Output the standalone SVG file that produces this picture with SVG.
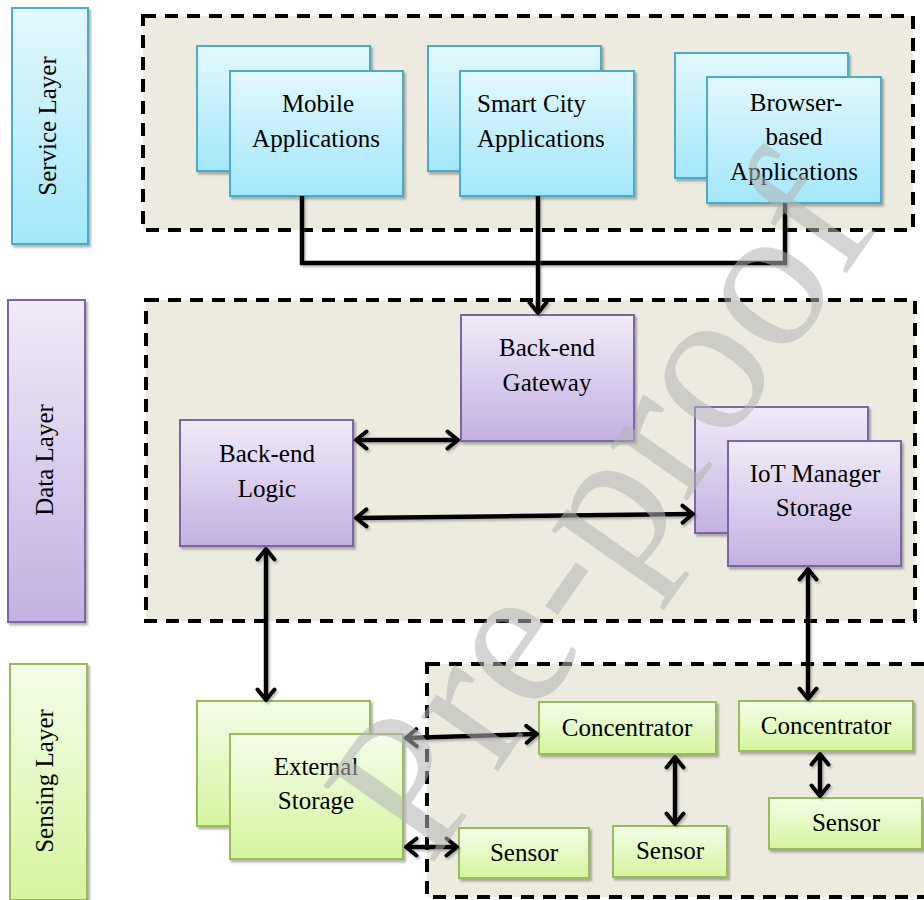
<svg xmlns="http://www.w3.org/2000/svg" width="924" height="900" viewBox="0 0 924 900">
<defs>
<linearGradient id="gc" x1="0" y1="0" x2="0" y2="1"><stop offset="0" stop-color="#e3f8fd"/><stop offset="1" stop-color="#a3e7fb"/></linearGradient>
<linearGradient id="gp" x1="0" y1="0" x2="0" y2="1"><stop offset="0" stop-color="#f0ebf8"/><stop offset="1" stop-color="#c3b0e2"/></linearGradient>
<linearGradient id="gg" x1="0" y1="0" x2="0" y2="1"><stop offset="0" stop-color="#f4fde9"/><stop offset="1" stop-color="#d4f59e"/></linearGradient>
<filter id="sh" x="-10%" y="-10%" width="130%" height="130%"><feDropShadow dx="2" dy="2.5" stdDeviation="1" flood-color="#555" flood-opacity="0.45"/></filter>
<filter id="shl" filterUnits="userSpaceOnUse" x="0" y="0" width="924" height="900"><feDropShadow dx="1.5" dy="2" stdDeviation="1" flood-color="#555" flood-opacity="0.4"/></filter>
<marker id="ah" viewBox="0 0 16 22" refX="13" refY="11" markerWidth="16" markerHeight="22" markerUnits="userSpaceOnUse" orient="auto-start-reverse"><path d="M2.5,2.5 L13,11 L2.5,19.5" fill="none" stroke="#000" stroke-width="4" stroke-linecap="round" stroke-linejoin="round"/></marker>
</defs>
<style>
.cont{fill:#edeae0;stroke:#000;stroke-width:4;stroke-dasharray:13 9}
.c{fill:url(#gc);stroke:#4bacc6;stroke-width:2;filter:url(#sh)}
.p{fill:url(#gp);stroke:#8064a2;stroke-width:2;filter:url(#sh)}
.g{fill:url(#gg);stroke:#9bbb59;stroke-width:2;filter:url(#sh)}
text{font-family:"Liberation Serif","Times New Roman",serif;font-size:25px;fill:#000;text-anchor:middle}
.ln{fill:none;stroke:#000;stroke-width:4.5;filter:url(#shl)}
.ar{marker-start:url(#ah);marker-end:url(#ah)}
.wm{font-size:205px;fill:#b4b4b4;opacity:0.55;text-anchor:start}
</style>
<rect width="924" height="900" fill="#fff"/>
<g id="service-layer-container"><rect class="cont" x="143" y="16" width="770" height="214"/></g>
<g id="data-layer-container"><rect class="cont" x="146" y="300" width="769" height="321"/></g>
<g id="sensing-layer-container"><rect class="cont" x="427" y="664" width="520" height="233"/></g>

<g id="service-layer"><rect class="c" x="12" y="8" width="76" height="236"/><text transform="translate(56,126) rotate(-90)">Service Layer</text></g>
<g id="data-layer"><rect class="p" x="8" y="300" width="77" height="322"/><text transform="translate(53,460) rotate(-90)">Data Layer</text></g>
<g id="sensing-layer"><rect class="g" x="10" y="664" width="77" height="236"/><text transform="translate(53,781) rotate(-90)">Sensing Layer</text></g>

<g id="mobile-applications"><rect class="c" x="197" y="46" width="173" height="125"/><rect class="c" x="230" y="71" width="173" height="125"/><text x="318" y="112">Mobile</text><text x="316" y="147">Applications</text></g>
<g id="smart-city-applications"><rect class="c" x="428" y="46" width="173" height="125"/><rect class="c" x="460" y="71" width="174" height="125"/><text x="477" y="112" style="text-anchor:start">Smart City</text><text x="477" y="147" style="text-anchor:start">Applications</text></g>
<g id="browser-based-applications"><rect class="c" x="675" y="53" width="173" height="125"/><rect class="c" x="707" y="77" width="174" height="126"/><text x="796" y="111">Browser-</text><text x="794" y="145">based</text><text x="794" y="180">Applications</text></g>

<g id="back-end-gateway"><rect class="p" x="461" y="315" width="173" height="126"/><text x="547" y="356">Back-end</text><text x="547" y="391">Gateway</text></g>
<g id="back-end-logic"><rect class="p" x="180" y="420" width="173" height="126"/><text x="267" y="462">Back-end</text><text x="267" y="497">Logic</text></g>
<g id="iot-manager-storage"><rect class="p" x="695" y="407" width="173" height="126"/><rect class="p" x="728" y="441" width="173" height="125"/><text x="815" y="482">IoT Manager</text><text x="814" y="516">Storage</text></g>

<g id="external-storage"><rect class="g" x="197" y="701" width="173" height="125"/><rect class="g" x="230" y="734" width="173" height="125"/><text x="316" y="775">External</text><text x="316" y="809">Storage</text></g>
<g id="concentrator-1"><rect class="g" x="539" y="702" width="177" height="52"/><text x="627" y="736">Concentrator</text></g>
<g id="concentrator-2"><rect class="g" x="739" y="701" width="174" height="50"/><text x="826" y="734">Concentrator</text></g>
<g id="sensor-1"><rect class="g" x="459" y="828" width="130" height="50"/><text x="524" y="861">Sensor</text></g>
<g id="sensor-2"><rect class="g" x="613" y="826" width="114" height="51"/><text x="670" y="859">Sensor</text></g>
<g id="sensor-3"><rect class="g" x="769" y="798" width="153" height="51"/><text x="846" y="831">Sensor</text></g>

<g id="connectors">
<path class="ln" d="M302,196 V263 H785 V203"/>
<path class="ln" d="M538,196 V313" style="marker-end:url(#ah)"/>
<path class="ln ar" d="M356,440 H458"/>
<path class="ln ar" d="M356,518 L693,514"/>
<path class="ln ar" d="M266,549 V700"/>
<path class="ln ar" d="M808,569 V699"/>
<path class="ln ar" d="M406,738 L537,734"/>
<path class="ln ar" d="M406,847 H457"/>
<path class="ln ar" d="M675,757 V824"/>
<path class="ln ar" d="M820,754 V796"/>
</g>
<text class="wm" transform="translate(430,868) rotate(-55)">Pre-proof</text>
</svg>
